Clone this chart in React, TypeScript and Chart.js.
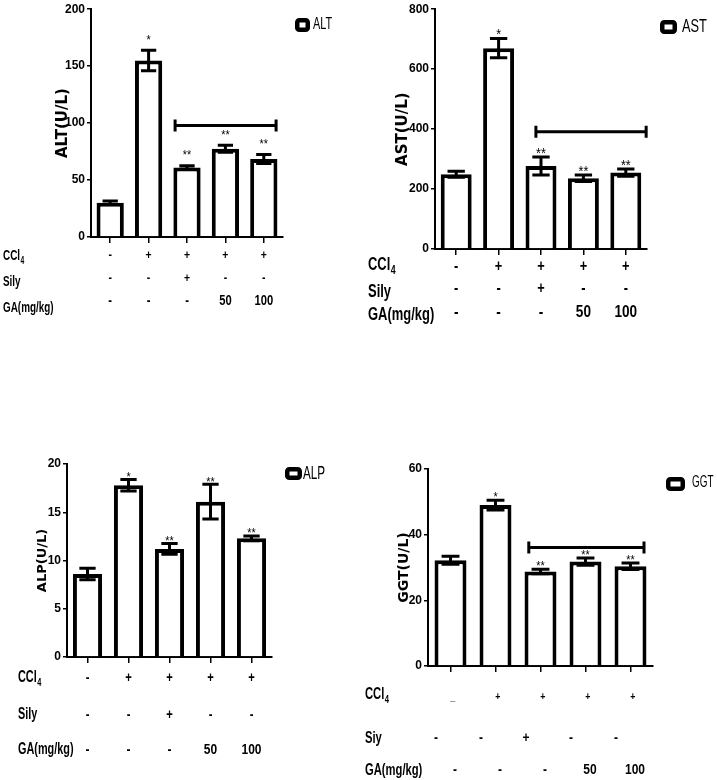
import React, { useEffect, useRef } from 'react';
import { Chart, registerables } from 'chart.js';

Chart.register(...registerables);

// ---------- data ----------
const groups = ['Control', 'CCl4', 'CCl4+Sily', 'CCl4+GA50', 'CCl4+GA100'];

const altValues = [30, 155, 61, 77.5, 68.5];
const altErrors = [1.5, 9, 1.5, 3, 4];
const altTicks = [0, 50, 100, 150, 200];
const altBracket = [1.69, 4.32, 98];

const astValues = [249, 670, 277, 236, 255];
const astErrors = [10, 32, 30, 11, 12];
const astTicks = [0, 200, 400, 600, 800];
const astBracket = [1.88, 4.48, 391];

const alpValues = [8.6, 17.8, 11.2, 16.1, 12.3];
const alpErrors = [0.6, 0.6, 0.55, 1.8, 0.25];
const alpTicks = [0, 5, 10, 15, 20];

const ggtValues = [32.2, 49, 28.8, 31.8, 30.4];
const ggtErrors = [1.2, 1.5, 0.7, 1.1, 1];
const ggtTicks = [0, 20, 40, 60];
const ggtBracket = [1.74, 4.3, 36.1];

const starMarks = ['', '*', '**', '**', '**'];

const cclRow = ['-', '+', '+', '+', '+'];
const ggtCclRow = ['_', '+', '+', '+', '+'];
const silyRow = ['-', '-', '+', '-', '-'];
const gaRow = ['-', '-', '-', '50', '100'];

// ---------- drawing helpers ----------
const SANS = '"Liberation Sans", Arial, Helvetica, sans-serif';
const NARROW = '"Liberation Sans Narrow", "Arial Narrow", "Liberation Sans", Arial, sans-serif';
const W = 717;
const H = 780;

function txt(
  ctx: CanvasRenderingContext2D,
  s: string,
  x: number,
  y: number,
  size: number,
  weight: string,
  sx: number,
  align: CanvasTextAlign = 'left',
  baseline: CanvasTextBaseline = 'middle'
) {
  ctx.save();
  ctx.font = `${weight} ${size}px ${SANS}`;
  ctx.textAlign = align;
  ctx.textBaseline = baseline;
  ctx.fillStyle = '#000';
  ctx.translate(x, y);
  ctx.scale(sx, 1);
  ctx.fillText(s, 0, 0);
  ctx.restore();
}

function labelWithSub(ctx: CanvasRenderingContext2D, main: string, sub: string, x: number, y: number, size: number, sx: number) {
  txt(ctx, main, x, y, size, 'bold', sx);
  ctx.save();
  ctx.font = `bold ${size}px ${SANS}`;
  const w = ctx.measureText(main).width * sx;
  ctx.restore();
  if (sub) txt(ctx, sub, x + w + 0.5, y + size * 0.32, size * 0.68, 'bold', sx);
}

type Row = { label: string; sub?: string; values: string[]; labelY: number; y: number; size: number; shift: number };

type Panel = {
  key: string;
  values: number[];
  errors: number[];
  ticks: number[];
  bracket?: number[];
  title: string;
  titleSize: number;
  area: { left: number; right: number; top: number; bottom: number };
  yWidth: number;
  barPct: number;
  legend: { label: string; bx: number; by: number; bw: number; bh: number; tx: number; ty: number; size: number; sx: number };
  starSize: number;
  starGap: number;
  labelX: number;
  labelSize: number;
  labelSx: number;
  rows: Row[];
};

const panels: Panel[] = [
  {
    key: 'alt',
    values: altValues,
    errors: altErrors,
    ticks: altTicks,
    bracket: altBracket,
    title: 'ALT(U/L)',
    titleSize: 15,
    area: { left: 91, right: 283, top: 9, bottom: 237 },
    yWidth: 37,
    barPct: 0.71,
    legend: { label: 'ALT', bx: 295, by: 18, bw: 15, bh: 14, tx: 313, ty: 25, size: 16, sx: 0.68 },
    starSize: 12,
    starGap: 13,
    labelX: 3,
    labelSize: 15,
    labelSx: 0.66,
    rows: [
      { label: 'CCl', sub: '4', values: cclRow, labelY: 256, y: 255, size: 13, shift: 0 },
      { label: 'Sily', values: silyRow, labelY: 282, y: 278, size: 13, shift: 0 },
      { label: 'GA(mg/kg)', values: gaRow, labelY: 308, y: 301, size: 14, shift: 0 },
    ],
  },
  {
    key: 'ast',
    values: astValues,
    errors: astErrors,
    ticks: astTicks,
    bracket: astBracket,
    title: 'AST(U/L)',
    titleSize: 15,
    area: { left: 435, right: 647, top: 9, bottom: 249 },
    yWidth: 41,
    barPct: 0.73,
    legend: { label: 'AST', bx: 660, by: 20, bw: 17, bh: 14, tx: 682, ty: 27, size: 18, sx: 0.71 },
    starSize: 14,
    starGap: 7,
    labelX: 368,
    labelSize: 18,
    labelSx: 0.72,
    rows: [
      { label: 'CCl', sub: '4', values: cclRow, labelY: 265, y: 267, size: 16, shift: 0 },
      { label: 'Sily', values: silyRow, labelY: 292, y: 289, size: 16, shift: 0 },
      { label: 'GA(mg/kg)', values: gaRow, labelY: 315, y: 312, size: 17, shift: 0 },
    ],
  },
  {
    key: 'alp',
    values: alpValues,
    errors: alpErrors,
    ticks: alpTicks,
    title: 'ALP(U/L)',
    titleSize: 13,
    area: { left: 67, right: 272, top: 464, bottom: 657 },
    yWidth: 32,
    barPct: 0.71,
    legend: { label: 'ALP', bx: 285, by: 467, bw: 17, bh: 13, tx: 303, ty: 474, size: 18, sx: 0.65 },
    starSize: 12,
    starGap: 5,
    labelX: 18,
    labelSize: 16,
    labelSx: 0.68,
    rows: [
      { label: 'CCl', sub: '4', values: cclRow, labelY: 678, y: 678, size: 14, shift: 0 },
      { label: 'Sily', values: silyRow, labelY: 715, y: 715, size: 14, shift: 0 },
      { label: 'GA(mg/kg)', values: gaRow, labelY: 750, y: 750, size: 15, shift: 0 },
    ],
  },
  {
    key: 'ggt',
    values: ggtValues,
    errors: ggtErrors,
    ticks: ggtTicks,
    bracket: ggtBracket,
    title: 'GGT(U/L)',
    titleSize: 14,
    area: { left: 428, right: 653, top: 469, bottom: 666 },
    yWidth: 32,
    barPct: 0.71,
    legend: { label: 'GGT', bx: 666, by: 477, bw: 19, bh: 14, tx: 692, ty: 483, size: 16, sx: 0.62 },
    starSize: 12,
    starGap: 6,
    labelX: 365,
    labelSize: 17,
    labelSx: 0.66,
    rows: [
      { label: 'CCl', sub: '4', values: ggtCclRow, labelY: 694, y: 697, size: 11, shift: 0.05 },
      { label: 'Siy', values: silyRow, labelY: 738, y: 738, size: 15, shift: -0.32 },
      { label: 'GA(mg/kg)', values: gaRow, labelY: 770, y: 770, size: 15, shift: 0.1 },
    ],
  },
];

function makeExtras(p: Panel) {
  return {
    id: 'extras_' + p.key,
    afterDraw(chart: any) {
      const ctx: CanvasRenderingContext2D = chart.ctx;
      const xs = chart.scales.x;
      const ys = chart.scales.y;
      const meta = chart.getDatasetMeta(0);
      ctx.save();
      ctx.strokeStyle = '#000';
      ctx.fillStyle = '#000';
      ctx.lineCap = 'butt';
      // error bars + stars
      meta.data.forEach((bar: any, i: number) => {
        const v = p.values[i];
        const e = p.errors[i];
        const x = bar.x;
        const bw = bar.width;
        const yTop = ys.getPixelForValue(v + e);
        const yBot = ys.getPixelForValue(v - e);
        const cap = bw * 0.28;
        ctx.lineWidth = 3;
        ctx.beginPath();
        ctx.moveTo(x, yTop);
        ctx.lineTo(x, yBot);
        ctx.moveTo(x - cap, yTop);
        ctx.lineTo(x + cap, yTop);
        ctx.moveTo(x - cap, yBot);
        ctx.lineTo(x + cap, yBot);
        ctx.stroke();
        const s = starMarks[i];
        if (s) {
          txt(ctx, s, x, yTop - p.starGap + p.starSize * 0.55, p.starSize, 'normal', 0.9, 'center', 'alphabetic');
        }
      });
      // bracket
      if (p.bracket) {
        const [from, to, val] = p.bracket;
        const x1 = xs.getPixelForValue(from);
        const x2 = xs.getPixelForValue(to);
        const y = ys.getPixelForValue(val);
        ctx.lineWidth = 3;
        ctx.beginPath();
        ctx.moveTo(x1, y);
        ctx.lineTo(x2, y);
        ctx.moveTo(x1, y - 6);
        ctx.lineTo(x1, y + 6);
        ctx.moveTo(x2, y - 6);
        ctx.lineTo(x2, y + 6);
        ctx.stroke();
      }
      // legend
      const lg = p.legend;
      ctx.lineWidth = 4.5;
      ctx.fillStyle = '#fff';
      ctx.beginPath();
      (ctx as any).roundRect(lg.bx + 2.25, lg.by + 2.25, lg.bw - 4.5, lg.bh - 4.5, 2);
      ctx.fill();
      ctx.stroke();
      txt(ctx, lg.label, lg.tx, lg.ty, lg.size, 'normal', lg.sx);
      // treatment rows
      p.rows.forEach((r) => {
        if (r.sub) labelWithSub(ctx, r.label, r.sub, p.labelX, r.labelY, p.labelSize, p.labelSx);
        else txt(ctx, r.label, p.labelX, r.labelY, p.labelSize, 'bold', p.labelSx);
        r.values.forEach((s, i) => {
          const x = xs.getPixelForValue(i + r.shift);
          txt(ctx, s, x, r.y, r.size, 'bold', 0.8, 'center', 'middle');
        });
      });
      ctx.restore();
    },
  };
}

function buildChart(canvas: HTMLCanvasElement, p: Panel) {
  const t = p.ticks;
  return new Chart(canvas, {
    type: 'bar',
    data: {
      labels: groups,
      datasets: [
        {
          data: p.values,
          backgroundColor: '#ffffff',
          borderColor: '#000000',
          borderWidth: 4,
          borderSkipped: 'start',
          barPercentage: p.barPct,
          categoryPercentage: 1,
        },
      ],
    },
    options: {
      responsive: false,
      animation: false,
      events: [],
      layout: {
        padding: {
          left: p.area.left - p.yWidth,
          right: W - p.area.right,
          top: p.area.top,
          bottom: H - p.area.bottom - 8,
        },
      },
      plugins: { legend: { display: false }, tooltip: { enabled: false } },
      scales: {
        x: {
          grid: { display: true, drawOnChartArea: false, drawTicks: true, tickLength: 6, lineWidth: 1.5, color: '#000', offset: false },
          border: { display: true, color: '#000', width: 2 },
          ticks: { display: false },
          afterFit: (s: any) => {
            s.height = 8;
          },
        },
        y: {
          min: t[0],
          max: t[t.length - 1],
          ticks: {
            stepSize: t[1] - t[0],
            color: '#000',
            padding: 2,
            font: { family: NARROW, weight: 'bold', size: 12 },
          },
          grid: { drawOnChartArea: false, drawTicks: true, tickLength: 4, lineWidth: 1.5, color: '#000' },
          border: { display: true, color: '#000', width: 2 },
          title: {
            display: true,
            text: p.title,
            color: '#000',
            padding: 0,
            font: { family: '"DejaVu Sans", Verdana, sans-serif', weight: 'bold', size: p.titleSize },
          },
          afterFit: (s: any) => {
            s.width = p.yWidth;
          },
        },
      },
    } as any,
    plugins: [makeExtras(p)],
  });
}

export default function App() {
  const refs = [useRef<HTMLCanvasElement>(null), useRef<HTMLCanvasElement>(null), useRef<HTMLCanvasElement>(null), useRef<HTMLCanvasElement>(null)];
  useEffect(() => {
    const charts = panels.map((p, i) => buildChart(refs[i].current as HTMLCanvasElement, p));
    return () => charts.forEach((c) => c.destroy());
  }, []);
  return (
    <div style={{ position: 'absolute', left: 0, top: 0, width: W, height: H, background: '#fff' }}>
      {panels.map((p, i) => (
        <canvas
          key={p.key}
          ref={refs[i]}
          width={W}
          height={H}
          style={{ position: 'absolute', left: 0, top: 0, width: W, height: H }}
        />
      ))}
    </div>
  );
}
